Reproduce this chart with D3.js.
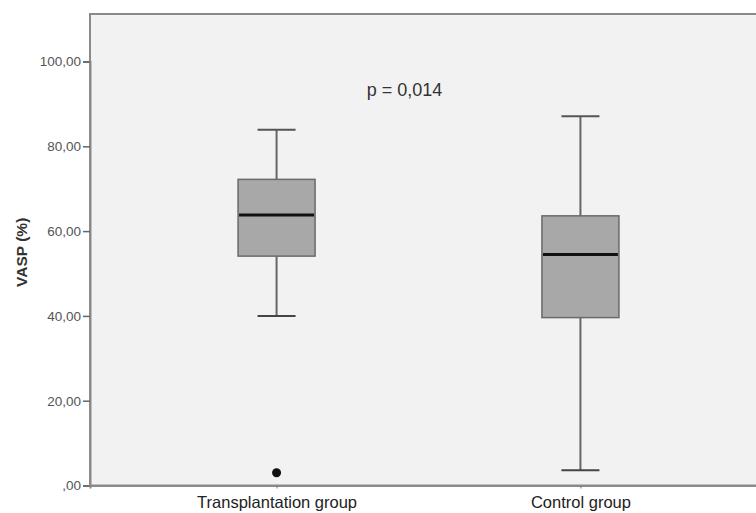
<!DOCTYPE html>
<html><head><meta charset="utf-8">
<script src="https://cdn.jsdelivr.net/npm/d3@7"></script>
<style>body{margin:0;background:#fff}svg{display:block}</style>
</head><body>
<script>
const categories = ["Transplantation group", "Control group"];
const whiskerLow  = [40.0, 3.6];
const q1          = [54.1, 39.6];
const median      = [63.8, 54.5];
const q3          = [72.2, 63.6];
const whiskerHigh = [83.9, 87.1];
const outliers    = [[3.0], []];
const yTicks = [0, 20, 40, 60, 80, 100];
const yTickLabels = [",00", "20,00", "40,00", "60,00", "80,00", "100,00"];
const pText = "p = 0,014";
const yTitle = "VASP (%)";

const W = 756, H = 513;
const mLeft = 90, mTop = 14, mBottom = 485.5, mRight = 767;
const svg = d3.select("body").append("svg").attr("width", W).attr("height", H);

const y = d3.scaleLinear().domain([0, 100]).range([mBottom, 61.5]);
const x = d3.scalePoint().domain(categories).range([mLeft, mRight]).padding(0.614);

svg.append("rect").attr("x", mLeft).attr("y", mTop).attr("width", mRight - mLeft + 20).attr("height", mBottom - mTop)
  .attr("fill", "#f2f2f2").attr("stroke", "#8a8a8a").attr("stroke-width", 2);

const yAxis = d3.axisLeft(y).tickValues(yTicks).tickFormat((d, i) => yTickLabels[i]).tickSize(7).tickPadding(2);
const ya = svg.append("g").attr("transform", `translate(${mLeft},0)`).call(yAxis);
ya.select(".domain").attr("stroke", "#8a8a8a").attr("stroke-width", 2);
ya.selectAll(".tick line").attr("stroke", "#666").attr("stroke-width", 1.5);
ya.selectAll(".tick text").attr("fill", "#555").style("font-family", "Liberation Sans, Arial, sans-serif").style("font-size", "13.5px");

const xAxis = d3.axisBottom(x).tickSize(3).tickPadding(8);
const xa = svg.append("g").attr("transform", `translate(0,${mBottom})`).call(xAxis);
xa.select(".domain").attr("stroke", "#8a8a8a").attr("stroke-width", 2);
xa.selectAll(".tick line").attr("stroke", "#777");
xa.selectAll(".tick text").attr("fill", "#222").style("font-family", "Liberation Sans, Arial, sans-serif").style("font-size", "16.5px");

const boxW = 77, capW = 38;
const g = svg.append("g");
categories.forEach((c, i) => {
  const cx = x(c);
  g.append("line").attr("x1", cx).attr("x2", cx).attr("y1", y(whiskerHigh[i])).attr("y2", y(q3[i])).attr("stroke", "#666").attr("stroke-width", 2);
  g.append("line").attr("x1", cx).attr("x2", cx).attr("y1", y(q1[i])).attr("y2", y(whiskerLow[i])).attr("stroke", "#666").attr("stroke-width", 2);
  g.append("line").attr("x1", cx - capW/2).attr("x2", cx + capW/2).attr("y1", y(whiskerHigh[i])).attr("y2", y(whiskerHigh[i])).attr("stroke", "#555").attr("stroke-width", 2);
  g.append("line").attr("x1", cx - capW/2).attr("x2", cx + capW/2).attr("y1", y(whiskerLow[i])).attr("y2", y(whiskerLow[i])).attr("stroke", "#444").attr("stroke-width", 2);
  g.append("rect").attr("x", cx - boxW/2).attr("y", y(q3[i])).attr("width", boxW).attr("height", y(q1[i]) - y(q3[i]))
    .attr("fill", "#a8a8a8").attr("stroke", "#6a6a6a").attr("stroke-width", 1.5);
  g.append("line").attr("x1", cx - boxW/2 + 1).attr("x2", cx + boxW/2 - 1).attr("y1", y(median[i])).attr("y2", y(median[i])).attr("stroke", "#111").attr("stroke-width", 3);
  outliers[i].forEach(v => {
    g.append("circle").attr("cx", cx).attr("cy", y(v)).attr("r", 4.5).attr("fill", "#111");
  });
});

svg.append("text").attr("x", 404.5).attr("y", 96).attr("text-anchor", "middle")
  .attr("fill", "#333").style("font-family", "Liberation Sans, Arial, sans-serif").style("font-size", "18px").text(pText);

svg.append("text").attr("transform", `translate(27,${y(55)}) rotate(-90)`).attr("text-anchor", "middle")
  .attr("fill", "#333").style("font-family", "Liberation Sans, Arial, sans-serif").style("font-size", "15.5px").style("font-weight", "bold").text(yTitle);
</script>
</body></html>
